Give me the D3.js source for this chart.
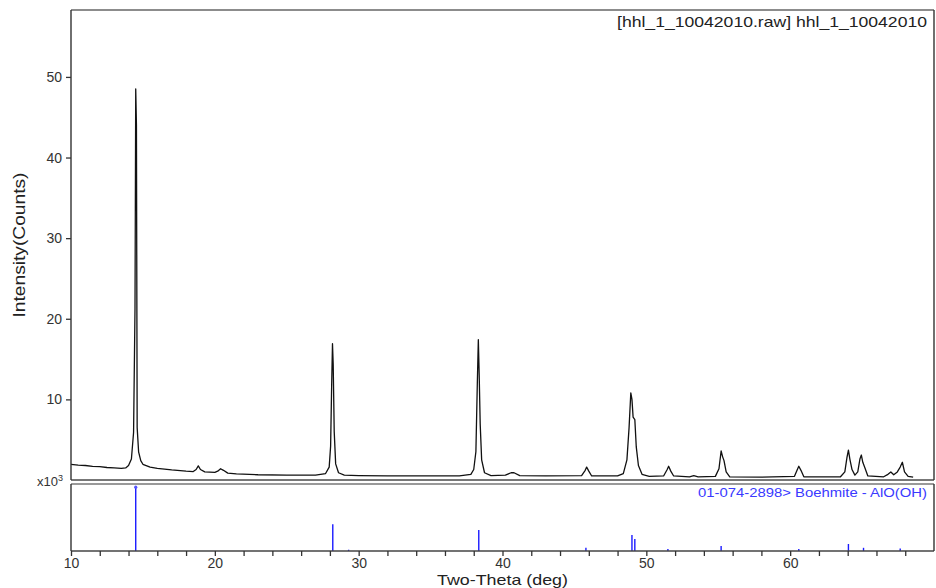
<!DOCTYPE html>
<html>
<head>
<meta charset="utf-8">
<script src="https://cdn.jsdelivr.net/npm/d3@7"></script>
<style>
  html, body { margin: 0; padding: 0; background: #fff; }
  svg { display: block; font-family: "Liberation Sans", Arial, sans-serif; }
</style>
</head>
<body>
<svg id="chart" width="936" height="588"></svg>
<script>
// ---- Data ----
// Measured pattern: two-theta (deg) and intensity (x10^3 counts)
const twoTheta = [
  10.0, 10.5, 11.0, 11.5, 12.0, 12.5, 13.0, 13.5, 13.8, 14.0, 14.2, 14.35, 14.45, 14.5, 14.55, 14.6, 14.7, 14.85,
  15.0, 15.5, 16.0, 17.0, 18.0, 18.5, 18.7, 18.85, 19.0, 19.3, 20.0, 20.2, 20.4, 20.6, 20.9, 21.5, 23.0, 25.0,
  27.0, 27.7, 27.95, 28.05, 28.12, 28.18, 28.23, 28.3, 28.4, 28.6, 29.0, 30.0, 32.0, 35.0, 37.0, 37.8, 38.0,
  38.15, 38.25, 38.32, 38.38, 38.45, 38.55, 38.75, 39.2, 40.2, 40.6, 40.8, 41.2, 43.0, 45.5, 45.75, 45.85, 46.0,
  46.2, 48.0, 48.4, 48.65, 48.8, 48.92, 49.0, 49.08, 49.2, 49.3, 49.45, 49.7, 50.2, 51.2, 51.45, 51.55, 51.7,
  51.9, 53.0, 53.3, 53.6, 54.8, 55.05, 55.2, 55.3, 55.4, 55.55, 55.8, 58.0, 60.3, 60.5, 60.6, 60.75, 60.95,
  63.5, 63.8, 63.95, 64.05, 64.15, 64.3, 64.5, 64.7, 64.85, 64.95, 65.05, 65.2, 65.4, 66.5, 66.8, 67.0, 67.2,
  67.45, 67.65, 67.8, 67.95, 68.2, 68.55
];
const counts = [
  1.95, 1.85, 1.8, 1.7, 1.65, 1.55, 1.5, 1.45, 1.5, 1.8, 2.6, 5.9, 21.3, 48.5, 44.0, 6.5, 3.5, 2.4,
  1.95, 1.6, 1.45, 1.25, 1.1, 1.05, 1.3, 1.75, 1.3, 1.0, 0.95, 1.1, 1.4, 1.2, 0.85, 0.75, 0.65, 0.6,
  0.6, 0.8, 1.6, 4.2, 11.5, 16.9, 14.3, 6.0, 2.0, 0.9, 0.6, 0.55, 0.5, 0.5, 0.5, 0.7, 1.3,
  3.5, 12.0, 17.4, 13.0, 6.9, 2.5, 0.9, 0.55, 0.6, 0.9, 0.9, 0.55, 0.5, 0.55, 1.2, 1.6, 1.1,
  0.5, 0.5, 0.8, 2.5, 6.5, 10.8, 10.0, 7.8, 7.5, 4.1, 1.8, 0.7, 0.45, 0.5, 1.3, 1.7, 1.1,
  0.5, 0.4, 0.55, 0.4, 0.45, 1.4, 3.6, 2.9, 2.4, 1.0, 0.4, 0.35, 0.45, 1.3, 1.7, 1.2, 0.4,
  0.4, 1.0, 2.8, 3.7, 2.6, 1.3, 0.6, 1.0, 2.6, 3.1, 2.2, 1.5, 0.5, 0.4, 0.7, 1.0, 0.65,
  1.0, 1.6, 2.2, 1.0, 0.45, 0.35
];

// Reference pattern sticks: 01-074-2898 Boehmite - AlO(OH)
const refTheta = [14.5, 28.2, 29.3, 38.35, 45.8, 49.0, 49.2, 51.5, 55.2, 60.6, 64.05, 65.1, 67.65];
const refIntensity = [100, 42, 2, 33, 5, 25, 19, 3, 8, 3, 11, 5, 4];

const yTickValues = [10, 20, 30, 40, 50];
const xLabelValues = [10, 20, 30, 40, 50, 60];
const titleText = "[hhl_1_10042010.raw] hhl_1_10042010";
const refLabel = "01-074-2898> Boehmite - AlO(OH)";
const xTitle = "Two-Theta (deg)";
const yTitle = "Intensity(Counts)";

// ---- Layout ----
const svg = d3.select("#chart");
const L = 71, R = 934, T = 10, B1 = 480, T2 = 484, B2 = 551;

const x = d3.scaleLinear().domain([10, 70]).range([L, R]);
const y = d3.scaleLinear().domain([0, 58.3]).range([B1, T]);
const yRef = d3.scaleLinear().domain([0, 105]).range([B2, T2]);

const textColor = "#333";

// Main pattern line
const pts = twoTheta.map((t, i) => [t, counts[i]]);
const line = d3.line().x(d => x(d[0])).y(d => y(d[1]));
svg.append("path")
  .datum(pts)
  .attr("d", line)
  .attr("fill", "none")
  .attr("stroke", "#111")
  .attr("stroke-width", 1.3)
  .attr("stroke-linejoin", "round");

// Reference sticks
const refData = refTheta.map((t, i) => ({ t, v: refIntensity[i] }));
svg.append("g").selectAll("line").data(refData).join("line")
  .attr("x1", d => x(d.t)).attr("x2", d => x(d.t))
  .attr("y1", yRef(0)).attr("y2", d => yRef(d.v))
  .attr("stroke", "#1a1aff").attr("stroke-width", 1.4);
svg.append("g").selectAll("circle").data(refData.filter(d => d.v >= 100)).join("circle")
  .attr("cx", d => x(d.t)).attr("cy", d => yRef(d.v))
  .attr("r", 1.6).attr("fill", "#5555ff");

// Frames
function frame(top, bottom, topColor, bottomColor, bottomWidth) {
  svg.append("line").attr("x1", L).attr("x2", R).attr("y1", top).attr("y2", top)
    .attr("stroke", topColor).attr("stroke-width", 1.6);
  svg.append("line").attr("x1", L).attr("x2", R).attr("y1", bottom).attr("y2", bottom)
    .attr("stroke", bottomColor).attr("stroke-width", bottomWidth);
  svg.append("line").attr("x1", L).attr("x2", L).attr("y1", top).attr("y2", bottom)
    .attr("stroke", "#333").attr("stroke-width", 1.4);
  svg.append("line").attr("x1", R).attr("x2", R).attr("y1", top).attr("y2", bottom)
    .attr("stroke", "#333").attr("stroke-width", 1.4);
}
frame(T, B1, "#666", "#777", 2);
frame(T2, B2, "#777", "#444", 1.6);

// Y axis (top panel)
const yAxis = d3.axisLeft(y).tickValues(yTickValues).tickSize(5).tickPadding(4).tickFormat(d3.format("d"));
const gy = svg.append("g").attr("transform", `translate(${L},0)`).call(yAxis);
gy.select(".domain").remove();
gy.selectAll(".tick line").attr("stroke", "#333").attr("stroke-width", 1.3);
gy.selectAll(".tick text").attr("fill", textColor).style("font-size", "14px")
  .style("font-family", "'Liberation Sans', Arial, sans-serif");

// X axis
const xAxis = d3.axisBottom(x).tickValues(d3.range(10, 70, 2)).tickSize(5).tickPadding(2)
  .tickFormat(d => xLabelValues.includes(d) ? d : "");
const gx = svg.append("g").attr("transform", `translate(0,${B2})`).call(xAxis);
gx.select(".domain").remove();
gx.selectAll(".tick line").attr("stroke", "#333").attr("stroke-width", 1.3);
gx.selectAll(".tick text").attr("fill", textColor).style("font-size", "14px")
  .style("font-family", "'Liberation Sans', Arial, sans-serif");

// x10^3 multiplier
const mult = svg.append("text").attr("x", 63).attr("y", 486).attr("text-anchor", "end")
  .attr("fill", textColor).style("font-size", "13px");
mult.append("tspan").text("x10");
mult.append("tspan").attr("dy", -5).style("font-size", "9px").text("3");

// Title
svg.append("text").attr("x", 927).attr("y", 27).attr("text-anchor", "end")
  .attr("fill", "#222").style("font-size", "15px")
  .attr("textLength", 310).attr("lengthAdjust", "spacingAndGlyphs")
  .text(titleText);

// Reference label
svg.append("text").attr("x", 927).attr("y", 497).attr("text-anchor", "end")
  .attr("fill", "#3a3aff").style("font-size", "13px")
  .attr("textLength", 229).attr("lengthAdjust", "spacingAndGlyphs")
  .text(refLabel);

// Axis titles
svg.append("text").attr("x", (L + R) / 2).attr("y", 585).attr("text-anchor", "middle")
  .attr("fill", "#222").style("font-size", "15px")
  .attr("textLength", 131).attr("lengthAdjust", "spacingAndGlyphs")
  .text(xTitle);
svg.append("text")
  .attr("transform", `translate(25,${(T + B1) / 2}) rotate(-90)`)
  .attr("text-anchor", "middle")
  .attr("fill", "#222").style("font-size", "16px")
  .attr("textLength", 145).attr("lengthAdjust", "spacingAndGlyphs")
  .text(yTitle);
</script>
</body>
</html>
